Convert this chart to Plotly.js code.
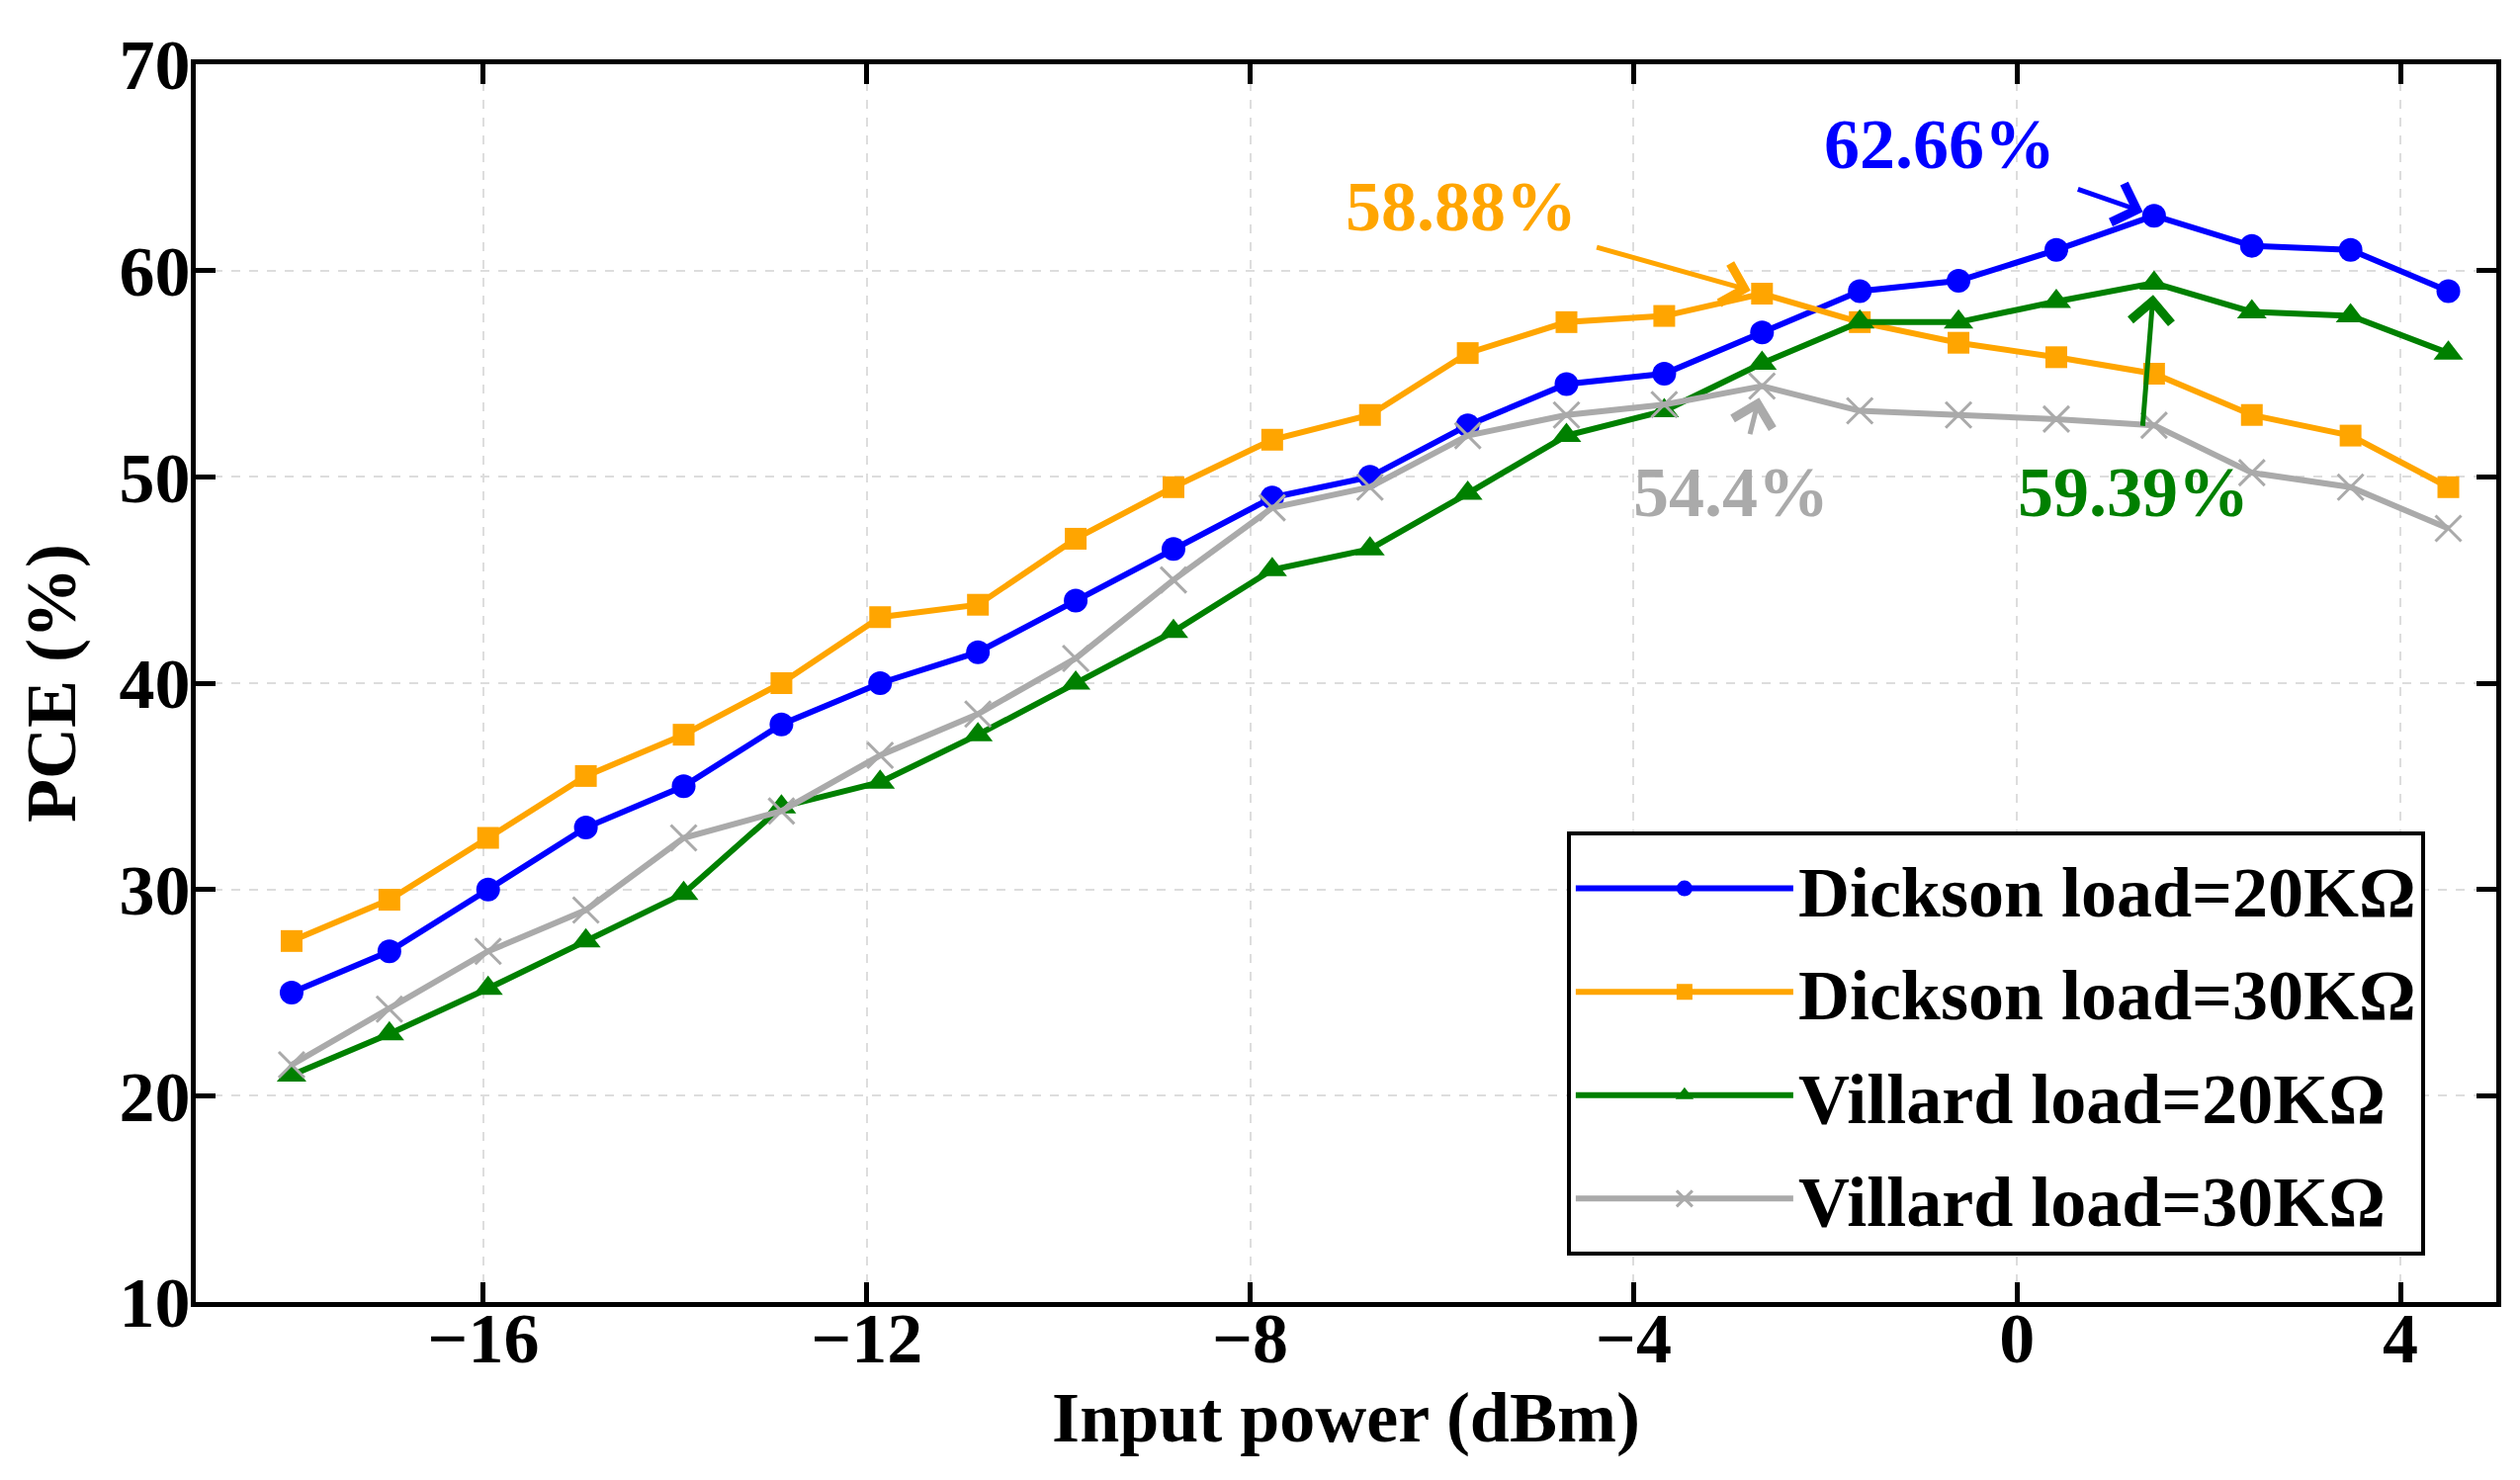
<!DOCTYPE html>
<html lang="en">
<head>
    <meta charset="UTF-8">
    <title>PCE vs Input power</title>
    <script src="https://cdn.plot.ly/plotly-3.0.1.min.js"></script>
    <style>
        body { margin: 0; background: #fff; }
        #chart { width: 2549px; height: 1497px; }
    </style>
</head>
<body>
<div id="chart"></div>
<script>
    // Input power sweep (dBm)
    var powerDbm = [-18, -16.98, -15.95, -14.93, -13.91, -12.89, -11.86, -10.84, -9.82, -8.80, -7.77, -6.75,
                    -5.73, -4.70, -3.68, -2.66, -1.64, -0.61, 0.41, 1.43, 2.45, 3.48, 4.5];

    // PCE (%) per rectifier / load
    var dickson20 = [25, 27, 30, 33, 35, 38, 40, 41.5, 44, 46.5, 49, 50, 52.5, 54.5, 55, 57, 59, 59.5, 61, 62.66, 61.2, 61, 59];
    var dickson30 = [27.5, 29.5, 32.5, 35.5, 37.5, 40, 43.2, 43.8, 47, 49.5, 51.8, 53, 56, 57.5, 57.8, 58.88, 57.5, 56.5, 55.8, 55, 53, 52, 49.5];
    var villard20 = [21, 23, 25.2, 27.5, 29.8, 34, 35.2, 37.5, 40, 42.5, 45.5, 46.5, 49.2, 52, 53.2, 55.5, 57.5, 57.5, 58.5, 59.39, 58, 57.8, 56];
    var villard30 = [21.5, 24.2, 27, 29, 32.5, 33.8, 36.5, 38.5, 41.2, 45, 48.5, 49.5, 52, 53, 53.5, 54.4, 53.2, 53, 52.8, 52.5, 50.2, 49.5, 47.5];

    var seriesNames = ['Dickson load=20K\u03A9', 'Dickson load=30K\u03A9', 'Villard load=20K\u03A9', 'Villard load=30K\u03A9'];
    var seriesColors = ['#0000FF', '#FFA500', '#008000', '#AAAAAA'];
    var seriesSymbols = ['circle', 'square', 'triangle-up', 'x-thin-open'];
    var seriesSizes = [24, 22, 26, 26];
    var seriesValues = [dickson20, dickson30, villard20, villard30];

    // peak labels: [text, head x, head y, tail x, tail y, label x, label y, colour]
    var peakLabels = [
        ['62.66%', 1.43, 62.66, 0.62, 63.97, -0.81, 66.1, '#0000FF'],
        ['58.88%', -2.66, 58.88, -4.40, 61.15, -5.80, 63.1, '#FFA500'],
        ['54.4%', -2.66, 54.4, -2.79, 52.0, -2.98, 49.25, '#AAAAAA'],
        ['59.39%', 1.43, 59.39, 1.31, 52.4, 1.21, 49.25, '#008000']
    ];

    var FONT = 'Liberation Serif, Times New Roman, serif';

    var traces = seriesValues.map(function (vals, i) {
        return {
            type: 'scatter',
            mode: 'lines+markers',
            name: seriesNames[i],
            legendgroup: 'g' + i,
            x: powerDbm,
            y: vals,
            line: { color: seriesColors[i], width: 6 },
            marker: {
                symbol: seriesSymbols[i],
                color: seriesColors[i],
                size: seriesSizes[i],
                line: { color: seriesColors[i], width: i === 3 ? 3 : 0 }
            }
        };
    });

    var annotations = [];
    peakLabels.forEach(function (p) {
        annotations.push({
            x: p[1], y: p[2], ax: p[3], ay: p[4],
            xref: 'x', yref: 'y', axref: 'x', ayref: 'y',
            text: '', showarrow: true,
            arrowhead: 4, arrowsize: 1.6, arrowwidth: 5,
            arrowcolor: p[7], standoff: 12
        });
        annotations.push({
            x: p[5], y: p[6], xref: 'x', yref: 'y',
            text: p[0], showarrow: false,
            font: { family: FONT, size: 72, color: p[7], weight: 'bold' }
        });
    });

    var axisCommon = {
        showline: true, linecolor: '#000', linewidth: 5, mirror: 'allticks',
        ticks: 'inside', ticklen: 20, tickwidth: 5, tickcolor: '#000',
        showgrid: true, gridcolor: '#DDDDDD', gridwidth: 2, griddash: 'dash',
        zeroline: false,
        tickfont: { family: FONT, size: 72, color: '#000', weight: 'bold' }
    };

    var layout = {
        width: 2549, height: 1497,
        margin: { l: 198, r: 24, t: 65, b: 180 },
        paper_bgcolor: '#fff', plot_bgcolor: '#fff',
        showlegend: true,
        xaxis: Object.assign({}, axisCommon, {
            range: [-19, 5], tick0: 0, dtick: 4,
            ticklabelstandoff: -30,
            title: { text: 'Input power (dBm)', standoff: 12,
                     font: { family: FONT, size: 72, color: '#000', weight: 'bold' } }
        }),
        yaxis: Object.assign({}, axisCommon, {
            range: [10, 70], tick0: 10, dtick: 10,
            ticklabelstandoff: -14,
            title: { text: 'PCE (%)', standoff: 22,
                     font: { family: FONT, size: 72, color: '#000', weight: 'bold' } }
        }),
        legend: {
            x: 0.596, y: 0.38, xanchor: 'left', yanchor: 'top',
            bgcolor: '#fff', bordercolor: '#000', borderwidth: 4,
            font: { family: FONT, size: 72, color: '#000', weight: 'bold' },
            tracegroupgap: 8, itemwidth: 220
        },
        annotations: annotations
    };

    Plotly.newPlot('chart', traces, layout, { displayModeBar: false, staticPlot: true });
</script>
</body>
</html>
